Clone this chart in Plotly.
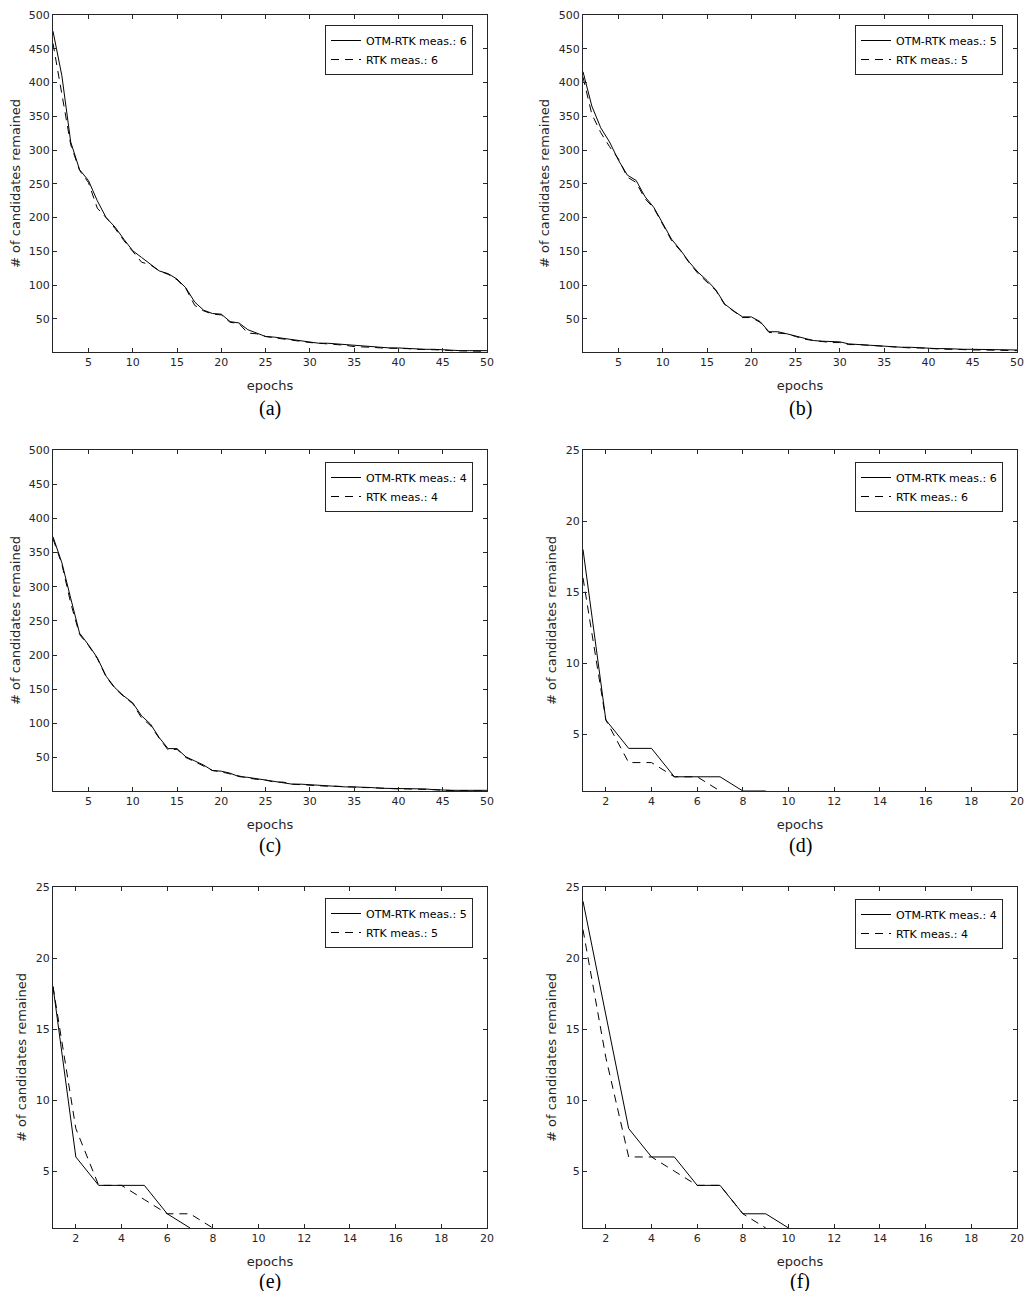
import plotly.graph_objects as go
from plotly.subplots import make_subplots

# candidates remaining per epoch
a_otm = [476, 410, 312, 271, 255, 225, 200, 186, 168, 151, 141, 131, 121, 117, 109, 96, 75, 63, 58, 57,
         46, 44, 34, 29, 24, 23, 21, 19, 17, 15, 14, 14, 13, 12, 10, 9, 8, 8, 7, 7, 6, 6, 5, 5, 4, 4, 3, 3, 3, 3]
a_rtk = [458, 385, 308, 270, 252, 214, 200, 184, 166, 150, 134, 130, 121, 116, 108, 95, 70, 62, 57, 56,
         45, 43, 29, 28, 24, 22, 20, 19, 17, 15, 14, 13, 13, 11, 9, 9, 8, 7, 7, 6, 6, 5, 5, 4, 4, 3, 3, 3, 3, 2]
b_otm = [416, 365, 333, 312, 285, 263, 255, 231, 215, 192, 168, 152, 134, 119, 107, 93, 72, 62, 53, 53,
         46, 31, 31, 28, 25, 21, 18, 17, 16, 16, 13, 12, 11, 10, 10, 9, 8, 8, 7, 7, 6, 6, 5, 5, 5, 5, 4, 4, 4, 4]
b_rtk = [408, 353, 326, 305, 287, 260, 252, 228, 214, 190, 166, 151, 133, 117, 104, 92, 71, 61, 52, 52,
         45, 30, 29, 28, 24, 20, 18, 16, 15, 15, 12, 12, 11, 10, 9, 9, 8, 7, 7, 6, 6, 5, 5, 4, 4, 4, 4, 3, 3, 3]
c_otm = [373, 335, 283, 232, 215, 196, 169, 152, 140, 130, 111, 99, 79, 63, 63, 51, 45, 39, 31, 30,
         27, 22, 21, 19, 17, 15, 14, 11, 11, 10, 9, 9, 8, 7, 7, 7, 6, 5, 5, 5, 4, 4, 4, 3, 2, 2, 2, 2, 2, 2]
c_rtk = [370, 333, 276, 230, 214, 195, 168, 151, 139, 129, 108, 97, 78, 61, 62, 50, 44, 38, 31, 29,
         26, 22, 20, 18, 17, 14, 14, 11, 10, 10, 9, 8, 8, 7, 7, 6, 6, 5, 5, 4, 4, 4, 3, 3, 2, 2, 2, 2, 2, 1]
d_otm = [18, 6, 4, 4, 2, 2, 2, 1, 1]
d_rtk = [16, 6, 3, 3, 2, 2, 1]
e_otm = [18, 6, 4, 4, 4, 2, 1]
e_rtk = [18, 8, 4, 4, 3, 2, 2, 1]
f_otm = [24, 16, 8, 6, 6, 4, 4, 2, 2, 1]
f_rtk = [22, 13, 6, 6, 5, 4, 4, 2, 1]

meas = [6, 5, 4, 6, 5, 4]
captions = ["(a)", "(b)", "(c)", "(d)", "(e)", "(f)"]

# the page body has an 8px margin, so the figure is 16px smaller than the window
OFF = 8
W, H = 1033 - 2 * OFF, 1299 - 2 * OFF
INK = "#262626"
SANS = "DejaVu Sans, Arial, sans-serif"

panels = [(a_otm, a_rtk), (b_otm, b_rtk), (c_otm, c_rtk),
          (d_otm, d_rtk), (e_otm, e_rtk), (f_otm, f_rtk)]

# pixel boxes of each axes in the window (left, right) / (top, bottom)
# top row starts a few px lower so the "500" label is not cut by the page edge
cols_px = [(53, 487), (583, 1017)]
rows_px = [(15, 352), (450, 791), (887, 1228)]
leg_px = [(473, 25), (1003, 25), (473, 462), (1003, 462), (473, 898), (1003, 899)]
cap_px = [408, 845, 1281]


def px_x(v):
    return (v - OFF) / W


def px_y(v):
    return 1 - (v - OFF) / H


fig = make_subplots(rows=3, cols=2)

for i, (otm, rtk) in enumerate(panels):
    r, c = i // 2 + 1, i % 2 + 1
    leg = "legend" if i == 0 else "legend%d" % (i + 1)
    fig.add_trace(go.Scatter(x=list(range(1, len(otm) + 1)), y=otm, mode="lines",
                             name="OTM-RTK meas.: %d" % meas[i], legend=leg,
                             line=dict(color="black", width=1)), row=r, col=c)
    fig.add_trace(go.Scatter(x=list(range(1, len(rtk) + 1)), y=rtk, mode="lines",
                             name="RTK meas.: %d" % meas[i], legend=leg,
                             line=dict(color="black", width=1, dash="8px,6px")), row=r, col=c)

    big = i < 3
    x0, x1 = cols_px[c - 1]
    y0, y1 = rows_px[r - 1]
    axstyle = dict(showline=True, mirror="ticks", linecolor=INK, linewidth=1,
                   ticks="inside", ticklen=4, tickcolor=INK, showgrid=False, zeroline=False,
                   automargin=False, ticklabeloverflow="allow",
                   tickfont=dict(family=SANS, size=11, color=INK))
    fig.update_xaxes(axstyle, row=r, col=c, domain=[px_x(x0), px_x(x1)],
                     range=[1, 50 if big else 20],
                     tickvals=list(range(5, 51, 5)) if big else list(range(2, 21, 2)),
                     title=dict(text="epochs", standoff=12, font=dict(family=SANS, size=13, color=INK)))
    fig.update_yaxes(axstyle, row=r, col=c, domain=[px_y(y1), px_y(y0)],
                     range=[1, 500 if big else 25],
                     tickvals=list(range(50, 501, 50)) if big else list(range(5, 26, 5)),
                     title=dict(text="# of candidates remained", standoff=6,
                                font=dict(family=SANS, size=13, color=INK)))

    lx, ly = leg_px[i]
    fig.update_layout({leg: dict(x=px_x(lx), y=px_y(ly), xanchor="right", yanchor="top",
                                 bgcolor="white", bordercolor=INK, borderwidth=1,
                                 font=dict(family=SANS, size=11, color="black"),
                                 itemwidth=30, tracegroupgap=0)})

    fig.add_annotation(text=captions[i], xref="paper", yref="paper",
                       x=px_x((x0 + x1) / 2), y=px_y(cap_px[r - 1]),
                       showarrow=False, xanchor="center", yanchor="middle",
                       font=dict(family="Liberation Serif, Times New Roman, serif", size=20, color="black"))

fig.update_layout(width=W, height=H, margin=dict(l=0, r=0, t=0, b=0),
                  paper_bgcolor="white", plot_bgcolor="white", showlegend=True)

fig.write_html("out.html")
